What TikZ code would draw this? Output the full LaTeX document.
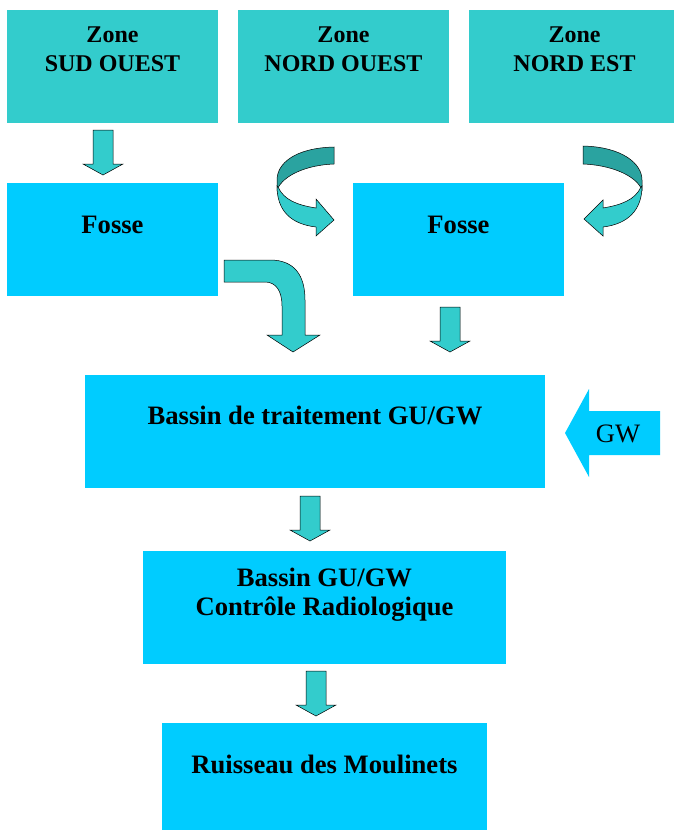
\documentclass[tikz,border=0pt]{standalone}
\usepackage{fontspec}
\setmainfont{Liberation Serif}
\usetikzlibrary{positioning}
\definecolor{zoneteal}{HTML}{33CCCC}
\definecolor{fosseblue}{HTML}{00CCFF}
\definecolor{backteal}{HTML}{2AA3A0}
\begin{document}
\begin{tikzpicture}[x=1pt, y=-1pt,
  every node/.style={inner sep=0pt, outer sep=0pt},
  zonebox/.style={fill=zoneteal, minimum width=211pt, minimum height=113pt},
  fossebox/.style={fill=fosseblue, minimum width=211pt, minimum height=113pt},
  flowbox/.style={fill=fosseblue, minimum height=113pt},
  zonetext/.style={font=\fontsize{24}{29}\selectfont\bfseries, align=center, anchor=base},
  boxtext/.style={font=\fontsize{26.6}{29}\selectfont\bfseries, align=center, anchor=base},
  flowarrow/.style={fill=zoneteal, draw=black, line width=0.5pt, line join=miter},
  backarrow/.style={fill=backteal, draw=black, line width=0.5pt},
  downarrow/.pic={\path[flowarrow] (-10,0) -- (10,0) -- (10,34) -- (20,34) -- (0,45) -- (-20,34) -- (-10,34) -- cycle;}
]
\useasboundingbox (0,0) rectangle (674,830);

% Zones
\node[zonebox] (zso) at (112.5,66.5) {};
\node[zonebox] (zno) at (343.5,66.5) {};
\node[zonebox] (zne) at (574.5,66.5) {};
\node[zonetext] (zsot) at (112.5,71) {Zone\\SUD OUEST};
\node[zonetext] (znot) at (343.5,71) {Zone\\NORD OUEST};
\node[zonetext] (znet) at (574.5,71) {Zone\\NORD EST};

% Fosses
\node[fossebox] (fso) at (112.5,239.5) {};
\node[fossebox] (fne) at (458.5,239.5) {};
\node[boxtext] (fsot) at (112.5,233) {Fosse};
\node[boxtext] (fnet) at (458.5,233) {Fosse};

% Bassins et ruisseau
\node[flowbox, minimum width=460pt] (bt) at (315,431.5) {};
\node[boxtext] (btt) at (315,424) {Bassin de traitement GU/GW};
\node[flowbox, minimum width=363pt] (bg) at (324.5,607.5) {};
\node[boxtext] (bgt) at (324.5,615) {Bassin GU/GW\\Contrôle Radiologique};
\node[flowbox, minimum width=325pt, minimum height=107pt] (rm) at (324.5,776.5) {};
\node[boxtext] (rmt) at (324.5,773) {Ruisseau des Moulinets};

% Straight arrows
\pic at (103,130) {downarrow};
\pic at (450,307) {downarrow};
\pic at (310,496) {downarrow};
\pic at (316,671) {downarrow};

% Bent arrow Fosse SO -> bassin
\path[flowarrow] (224,260) -- (270,260) .. controls (295,260) and (305,276) .. (305,300)
  -- (305,335) -- (320,335) -- (293,352) -- (267,335) -- (282,335) -- (282,306)
  .. controls (282,291) and (276,282) .. (265,282) -- (224,282) -- cycle;

% Curved arrow zone NO -> fosse NE
\path[backarrow] (334,147) .. controls (294,148) and (277,164) .. (277,180) -- (277,190)
  .. controls (283,175) and (307,165) .. (334,164) -- cycle;
\path[flowarrow] (278,187) .. controls (284,200) and (297,205) .. (316,208) -- (316,199)
  -- (334,220) -- (316,236) -- (316,227) .. controls (290,224) and (277,210) .. (277,186) -- cycle;

% Curved arrow zone NE -> fosse NE
\path[backarrow] (583,146) .. controls (623,147) and (642,164) .. (642,180) -- (642,190)
  .. controls (636,175) and (610,165) .. (583,164) -- cycle;
\path[flowarrow] (641,187) .. controls (635,200) and (621,205) .. (603,208) -- (603,200)
  -- (584,219) -- (603,236) -- (603,227) .. controls (628,224) and (642,210) .. (642,186) -- cycle;

% GW inlet
\path[fill=fosseblue] (565,433) -- (589,389) -- (589,411) -- (660,411) -- (660,455)
  -- (589,455) -- (589,477) -- cycle;
\node[font=\fontsize{26.6}{29}\selectfont, anchor=base] (gw) at (618,442) {GW};
\end{tikzpicture}
\end{document}
